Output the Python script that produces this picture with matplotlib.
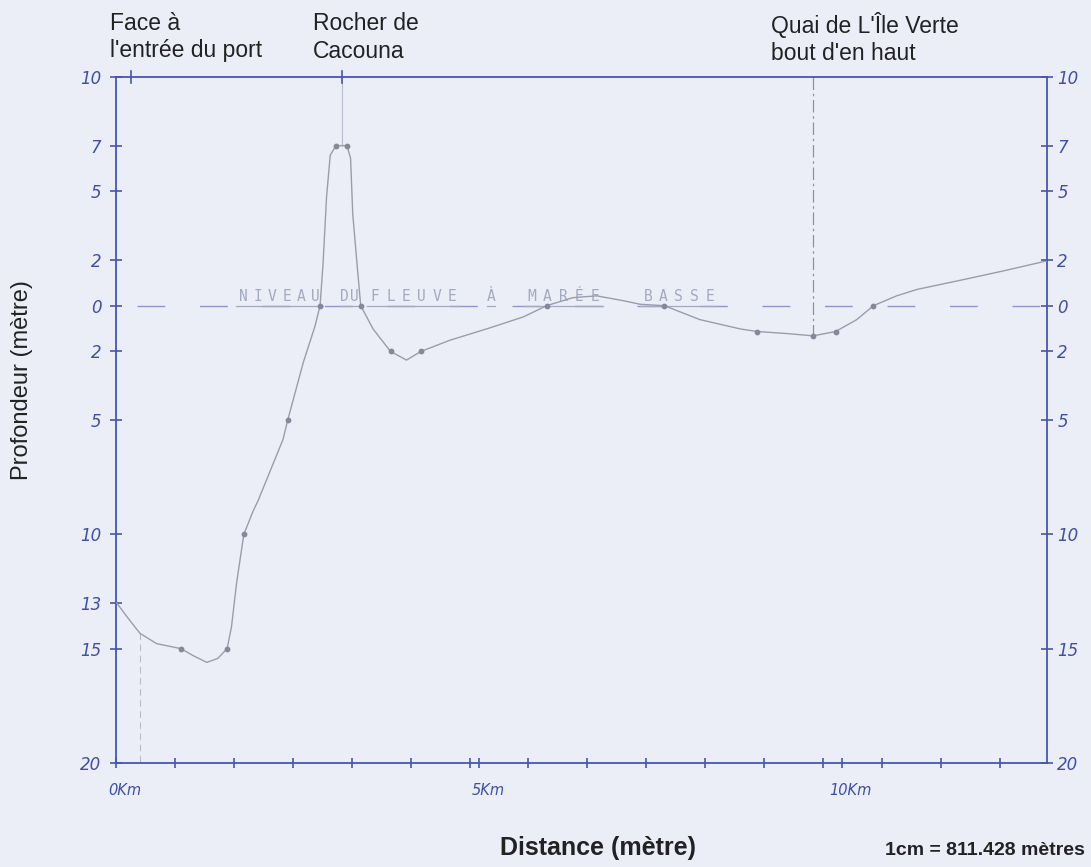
import matplotlib
matplotlib.use("Agg")
import matplotlib.pyplot as plt
import matplotlib.transforms as mtransforms
import numpy as np

curve_km = [0.01, 0.15, 0.33, 0.56, 0.895, 1.06, 1.25, 1.40, 1.53, 1.59, 1.66, 1.76, 1.89, 1.96,
            2.30, 2.365, 2.58, 2.74, 2.81, 2.85, 2.90, 2.95, 3.03, 3.18, 3.23, 3.26, 3.32, 3.37,
            3.54, 3.78, 4.00, 4.20, 4.60, 5.15, 5.61, 5.93, 6.29, 6.62, 6.98, 7.22, 7.55, 8.04,
            8.60, 8.83, 9.24, 9.60, 9.91, 10.20, 10.43, 10.75, 11.03, 11.67, 12.22, 12.82]
curve_m = [-13.0, -13.6, -14.33, -14.78, -15.0, -15.3, -15.6, -15.43, -15.0, -14.05, -12.14, -10.0, -8.97, -8.5,
           -5.85, -5.0, -2.47, -0.9, 0.0, 1.78, 4.78, 6.58, 7.0, 7.0, 6.45, 4.01, 1.78, 0.0,
           -1.02, -2.0, -2.38, -2.0, -1.51, -0.97, -0.49, 0.0, 0.35, 0.43, 0.22, 0.06, 0.0, -0.61,
           -1.02, -1.13, -1.22, -1.32, -1.13, -0.61, 0.0, 0.43, 0.71, 1.14, 1.52, 1.96]

# sounding points (the small dots)
dot_km = [0.895, 1.53, 1.76, 2.365, 2.81, 3.03, 3.18, 3.37, 3.78, 4.20, 5.93, 7.55, 8.83, 9.60, 9.91, 10.43]
dot_m = [-15, -15, -10, -5, 0, 7, 7, 0, -2, -2, 0, 0, -1.13, -1.32, -1.13, 0]

left_ticks = [10, 7, 5, 2, 0, -2, -5, -10, -13, -15, -20]
right_ticks = [10, 7, 5, 2, 0, -2, -5, -10, -15, -20]
km_labels = [0, 5, 10]
cm_km = 0.811428

places = ["Face à\nl'entrée du port", "Rocher de\nCacouna", "Quai de L'Île Verte\nbout d'en haut"]
place_km = [0.33, 3.11, 9.60]

words = ["NIVEAU", "DU", "FLEUVE", "À", "MARÉE", "BASSE"]
word_start = [1.65, 3.07, 3.46, 5.11, 5.61, 7.22]
word_end = [2.85, 3.36, 4.74, 5.22, 6.71, 8.28]

bg = "#ECEEF7"
blue = "#4656B0"
ink = "#3E4FA8"
pencil = "#9A9CAA"
sans = "Liberation Sans"

fig = plt.figure(figsize=(10.91, 8.67), dpi=100, facecolor=bg)
ax = fig.add_axes([116 / 1091, 1 - 763 / 867, (1047 - 116) / 1091, (763 - 77) / 867])
ax.set_facecolor(bg)
ax.set_xlim(0, 12.82)
ax.set_ylim(-20, 10)

for s in ax.spines.values():
    s.set_color(blue)
    s.set_linewidth(1.3)

# profile
ax.plot(curve_km, curve_m, color=pencil, lw=1.0, zorder=3)
ax.scatter(dot_km, dot_m, s=10, color="#85879A", zorder=4)

# low tide line
ax.plot([0.29, 12.82], [0, 0], color="#8C96CC", lw=1.0, ls=(0, (20, 25)), zorder=2)
for w, a, b in zip(words, word_start, word_end):
    xs = np.linspace(a, b, len(w) + 1)
    for ch, xc in zip(w, (xs[:-1] + xs[1:]) / 2):
        ax.text(xc, 0.08, ch, ha="center", va="bottom", fontsize=10.5,
                family="DejaVu Sans Mono", color="#A4A9C2", zorder=2)
    ax.plot([a, b], [0, 0], color="#A4A9C2", lw=0.9, zorder=2)

# location markers
ax.plot([place_km[0], place_km[0]], [-14.33, -20], color="#B8BBCB", lw=0.8, ls=(0, (6, 4)), zorder=1)
ax.plot([place_km[1], place_km[1]], [10, 7], color="#B8BBCB", lw=0.8, zorder=1)
ax.plot([place_km[2], place_km[2]], [10, -1.32], color="#8E90A0", lw=0.9, ls=(0, (10, 3, 2, 3)), zorder=1)

# y axes
ax.set_yticks(left_ticks)
ax.set_yticklabels([str(abs(v)) for v in left_ticks])
ax.tick_params(axis="y", direction="inout", length=9, width=1.2, color=blue,
               labelcolor=ink, labelsize=12, pad=6)
for t in ax.get_yticklabels():
    t.set_fontstyle("italic")

ax2 = ax.twinx()
ax2.set_ylim(-20, 10)
ax2.set_yticks(right_ticks)
ax2.set_yticklabels([str(abs(v)) for v in right_ticks])
ax2.tick_params(axis="y", direction="inout", length=9, width=1.2, color=blue,
                labelcolor=ink, labelsize=12, pad=3)
for t in ax2.get_yticklabels():
    t.set_fontstyle("italic")
for s in ax2.spines.values():
    s.set_visible(False)

# x axis : a tick every centimetre plus the km marks
ax.set_xticks(km_labels)
ax.set_xticks([k * cm_km for k in range(1, 16)], minor=True)
ax.set_xticklabels([])
ax.tick_params(axis="x", which="both", direction="inout", length=7, width=1.2, color=blue)
trans = mtransforms.blended_transform_factory(ax.transData, ax.transAxes)
for v in km_labels:
    ax.text(v + 0.12, -0.04, f"{v}Km", transform=trans, ha="center", va="center",
            fontsize=10.5, fontstyle="italic", color=ink)

# small ticks on the top edge
for xv in [0.2, place_km[1]]:
    ax.plot([xv, xv], [9.75, 10.25], color=blue, lw=1.2, clip_on=False)

# typed labels
for txt, xp in zip(places, [110, 313, 771]):
    fig.text(xp / 1091, 1 - 12 / 867, txt, ha="left", va="top", fontsize=16.5,
             family=sans, color="#222222", linespacing=1.25)

fig.text(22 / 1091, 1 - 380 / 867, "Profondeur (mètre)", rotation=90, ha="center", va="center",
         fontsize=17, family=sans, color="#222222")
fig.text(598 / 1091, 1 - 855 / 867, "Distance (mètre)", ha="center", va="baseline",
         fontsize=18, fontweight="bold", family=sans, color="#222222")
fig.text(1085 / 1091, 1 - 855 / 867, "1cm = 811.428 mètres", ha="right", va="baseline",
         fontsize=14, fontweight="bold", family=sans, color="#222222")

fig.savefig("out.png", dpi=100, facecolor=bg)
